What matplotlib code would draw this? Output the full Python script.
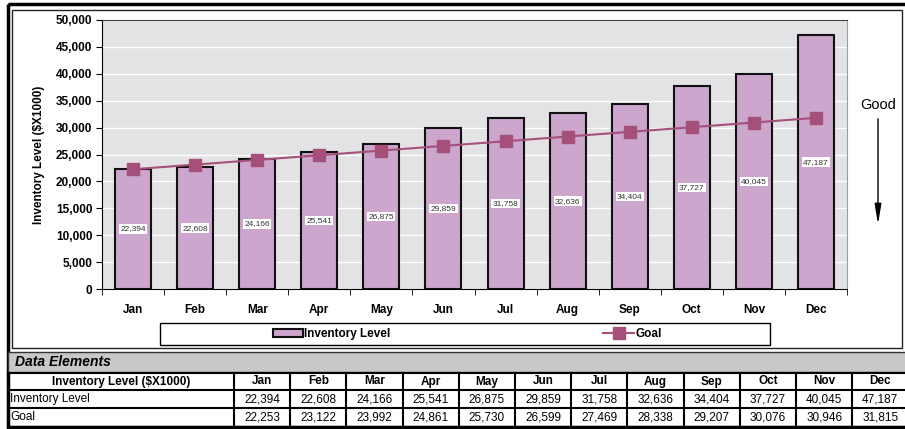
import numpy as np
import matplotlib
matplotlib.use("Agg")
import matplotlib.pyplot as plt
from matplotlib.patches import Rectangle

plt.rcParams['font.family'] = ['Liberation Sans', 'DejaVu Sans']

months = ["Jan", "Feb", "Mar", "Apr", "May", "Jun",
          "Jul", "Aug", "Sep", "Oct", "Nov", "Dec"]
inventory = [22394, 22608, 24166, 25541, 26875, 29859,
             31758, 32636, 34404, 37727, 40045, 47187]
goal = [22253, 23122, 23992, 24861, 25730, 26599,
        27469, 28338, 29207, 30076, 30946, 31815]
yticks = list(range(0, 50001, 5000))

bar_color = "#cca6cc"
goal_color = "#a5507a"
W, H = 905, 429

fig = plt.figure(figsize=(W / 100, H / 100), dpi=100)

# background layer in pixel coordinates: frames + data table
bg = fig.add_axes([0, 0, 1, 1])
bg.set_xlim(0, W)
bg.set_ylim(H, 0)
bg.axis("off")

bg.add_patch(Rectangle((8, 4), W + 10, 423, fill=False, ec="black", lw=2.5))
bg.add_patch(Rectangle((12, 10), 890, 338, fill=False, ec="#222222", lw=1))
bg.add_patch(Rectangle((160, 323), 610, 22, fc="white", ec="black", lw=1))

# "Data Elements" band
bg.add_patch(Rectangle((8, 352), W, 20, fc="#c8c8c8", ec="#333333", lw=1))
bg.text(15, 362, "Data Elements", fontsize=10, fontweight="bold",
        fontstyle="italic", va="center", ha="left")

# table grid
col_edges = [8, 234] + [234 + 56.2 * (i + 1) for i in range(12)]
row_edges = [373, 390, 408, 427]
for y in row_edges:
    bg.plot([8, W + 5], [y, y], color="black", lw=1.5)
for x in col_edges:
    bg.plot([x, x], [row_edges[0], row_edges[-1]], color="black", lw=1.5)

row_mid = [(row_edges[i] + row_edges[i + 1]) / 2 for i in range(3)]
bg.text((col_edges[0] + col_edges[1]) / 2, row_mid[0], "Inventory Level ($X1000)",
        fontsize=8.5, fontweight="bold", ha="center", va="center")
bg.text(10, row_mid[1], "Inventory Level", fontsize=8.5, ha="left", va="center")
bg.text(10, row_mid[2], "Goal", fontsize=8.5, ha="left", va="center")
for i, m in enumerate(months):
    cx = (col_edges[i + 1] + col_edges[i + 2]) / 2
    bg.text(cx, row_mid[0], m, fontsize=8.5, fontweight="bold", ha="center", va="center")
    bg.text(cx, row_mid[1], f"{inventory[i]:,}", fontsize=8.5, ha="center", va="center")
    bg.text(cx, row_mid[2], f"{goal[i]:,}", fontsize=8.5, ha="center", va="center")

# "Good" arrow
bg.text(878, 105, "Good", fontsize=10.5, ha="center", va="center")
bg.annotate("", xy=(878, 227), xytext=(878, 116),
            arrowprops=dict(arrowstyle="-|>,head_length=1.2,head_width=0.2",
                            color="black", lw=1))

# main chart
ax = fig.add_axes([102 / W, (H - 289) / H, 745 / W, 269 / H])
ax.set_facecolor("#e3e3e5")
x = np.arange(len(months))

bars = ax.bar(x, inventory, width=0.58, color=bar_color, edgecolor="#111111",
              lw=1.5, zorder=2, label="Inventory Level")
line, = ax.plot(x, goal, color=goal_color, lw=1.5, marker="s", ms=8,
                zorder=3, label="Goal")

for xi, v in zip(x, inventory):
    ax.text(xi, v / 2, f"{v:,}", fontsize=6, color="#333333", ha="center",
            va="center", zorder=4,
            bbox=dict(boxstyle="square,pad=0.15", fc="white", ec="none"))

ax.set_xlim(-0.5, len(months) - 0.5)
ax.set_ylim(0, 50000)
ax.set_yticks(yticks)
ax.set_yticklabels([f"{t:,}" for t in yticks], fontsize=8.5, fontweight="bold")
ax.set_xticks(x)
ax.set_xticklabels(months, fontsize=8.5, fontweight="bold")
ax.set_xticks(np.arange(-0.5, len(months)), minor=True)
ax.tick_params(axis="x", which="major", length=0, pad=11)
ax.tick_params(axis="x", which="minor", length=4, direction="out")
ax.tick_params(axis="y", length=4, direction="out", pad=3)
ax.grid(axis="y", color="white", lw=1)
ax.set_axisbelow(True)

ax.spines["left"].set_color("black")
ax.spines["bottom"].set_color("black")
ax.spines["top"].set_color("#404040")
ax.spines["right"].set_color("#a0a0a0")

ax.set_ylabel("Inventory Level ($X1000)", fontsize=8.5, fontweight="bold", labelpad=8)

ax.legend(handles=[bars, line], loc="center", ncol=2, frameon=False,
          bbox_to_anchor=(467 / W, (H - 334) / H), bbox_transform=fig.transFigure,
          prop=dict(size=8.5, weight="bold"), handlelength=2.6, handletextpad=0.1,
          columnspacing=18)

fig.savefig("out.png", dpi=100)
